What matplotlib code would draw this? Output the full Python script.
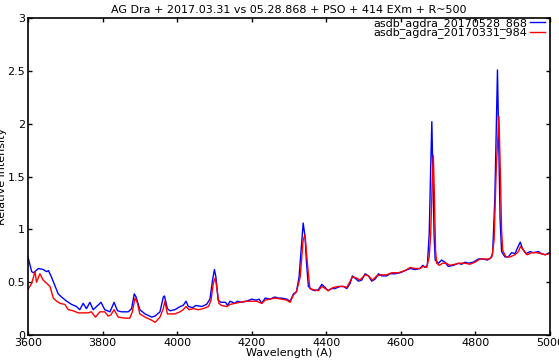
import matplotlib
matplotlib.use('Agg')
import matplotlib.pyplot as plt

# spectrum 2017.05.28 (blue)
wl_0528 = [3600,3610,3615,3628,3641,3650,3655,3663,3672,3681,3690,3704,3717,3730,3739,3748,3757,3766,3775,3784,
           3796,3806,3820,3831,3840,3851,3869,3878,3885,3890,3900,3914,3932,3941,3954,3963,3966,3974,3981,3994,
           4008,4016,4024,4030,4042,4050,4066,4079,4088,4095,4100,4104,4110,4117,4130,4135,4142,4155,4161,4173,
           4186,4200,4213,4220,4227,4236,4249,4262,4271,4280,4294,4303,4312,4320,4327,4334,4338,4343,4347,4352,
           4361,4370,4379,4388,4397,4405,4414,4423,4437,4446,4455,4464,4470,4477,4486,4495,4504,4513,4522,4531,
           4540,4549,4562,4571,4584,4598,4611,4625,4638,4651,4659,4665,4671,4676,4680,4683,4686,4689,4692,4701,
           4709,4718,4727,4741,4754,4763,4772,4781,4794,4808,4821,4832,4841,4846,4852,4856,4859,4862,4866,4870,
           4879,4888,4897,4906,4912,4920,4926,4936,4946,4955,4969,4977,4987,4998]
int_0528 = [0.74,0.60,0.59,0.63,0.62,0.60,0.61,0.55,0.47,0.39,0.36,0.32,0.29,0.27,0.24,0.30,0.25,0.31,0.24,0.27,
            0.31,0.24,0.22,0.31,0.23,0.22,0.22,0.25,0.39,0.36,0.24,0.20,0.17,0.18,0.22,0.36,0.37,0.25,0.23,0.24,
            0.27,0.28,0.32,0.27,0.26,0.28,0.27,0.29,0.34,0.52,0.62,0.55,0.33,0.31,0.31,0.28,0.32,0.30,0.32,0.31,
            0.32,0.34,0.33,0.34,0.30,0.35,0.34,0.36,0.35,0.35,0.34,0.32,0.39,0.41,0.55,0.87,1.06,0.93,0.68,0.46,
            0.43,0.42,0.43,0.48,0.45,0.42,0.44,0.44,0.46,0.46,0.44,0.49,0.56,0.54,0.51,0.52,0.58,0.56,0.51,0.53,
            0.58,0.56,0.56,0.58,0.58,0.59,0.61,0.63,0.62,0.63,0.66,0.64,0.66,0.96,1.60,2.02,1.50,0.95,0.71,0.68,
            0.71,0.69,0.65,0.66,0.68,0.67,0.69,0.68,0.69,0.72,0.72,0.71,0.73,0.77,1.30,2.00,2.51,1.90,1.10,0.79,
            0.74,0.74,0.78,0.77,0.82,0.88,0.82,0.77,0.79,0.78,0.79,0.77,0.76,0.78]

# spectrum 2017.03.31 (red)
wl_0331 = [3600,3610,3619,3623,3632,3641,3650,3659,3668,3677,3686,3699,3708,3721,3735,3748,3761,3770,3781,3793,
           3806,3815,3822,3831,3842,3860,3873,3880,3887,3893,3900,3914,3932,3941,3954,3963,3967,3974,3981,3994,
           4008,4016,4024,4032,4044,4057,4070,4084,4091,4097,4102,4106,4112,4119,4133,4142,4155,4168,4182,4195,
           4213,4227,4236,4249,4262,4280,4294,4303,4312,4320,4330,4338,4343,4347,4352,4356,4365,4379,4388,4397,
           4405,4418,4432,4446,4455,4464,4470,4481,4490,4504,4513,4524,4535,4547,4562,4575,4593,4611,4625,4638,
           4651,4660,4669,4676,4680,4684,4687,4690,4693,4696,4703,4712,4722,4731,4745,4758,4772,4785,4799,4812,
           4826,4837,4844,4850,4856,4863,4867,4870,4873,4882,4893,4906,4915,4921,4929,4938,4951,4964,4977,4987,4998]
int_0331 = [0.43,0.49,0.60,0.50,0.58,0.52,0.49,0.46,0.35,0.32,0.30,0.29,0.24,0.23,0.21,0.21,0.21,0.22,0.17,0.22,
            0.22,0.18,0.19,0.24,0.17,0.16,0.16,0.22,0.35,0.31,0.20,0.17,0.14,0.12,0.17,0.25,0.32,0.20,0.20,0.20,
            0.22,0.24,0.27,0.24,0.25,0.24,0.25,0.27,0.33,0.49,0.54,0.46,0.30,0.28,0.27,0.29,0.30,0.31,0.32,0.32,
            0.32,0.30,0.33,0.34,0.35,0.34,0.33,0.31,0.38,0.41,0.55,0.90,0.95,0.77,0.58,0.44,0.43,0.42,0.46,0.44,
            0.42,0.45,0.46,0.46,0.45,0.51,0.55,0.54,0.52,0.57,0.56,0.52,0.56,0.57,0.57,0.59,0.59,0.61,0.64,0.63,
            0.63,0.65,0.64,0.74,0.96,1.45,1.70,1.30,0.80,0.68,0.66,0.68,0.68,0.66,0.67,0.68,0.68,0.67,0.69,0.72,
            0.72,0.72,0.74,0.90,1.60,2.07,1.50,1.00,0.80,0.74,0.74,0.76,0.79,0.84,0.80,0.76,0.78,0.78,0.77,0.76,0.77]

fig = plt.figure(figsize=(5.59, 3.63), dpi=100)
ax = fig.add_axes([0.050, 0.077, 0.934, 0.873])

ax.plot(wl_0528, int_0528, color='blue', lw=1.0, label='asdb_agdra_20170528_868')
ax.plot(wl_0331, int_0331, color='red', lw=1.0, label='asdb_agdra_20170331_984')

ax.set_xlim(3600, 5000)
ax.set_ylim(0, 3)
ax.set_xticks([3600, 3800, 4000, 4200, 4400, 4600, 4800, 5000])
ax.set_yticks([0, 0.5, 1, 1.5, 2, 2.5, 3])
ax.set_yticklabels(['0', '0.5', '1', '1.5', '2', '2.5', '3'])
ax.tick_params(direction='in', length=3, width=1, top=True, right=True, labelsize=8, pad=2)
for s in ax.spines.values():
    s.set_linewidth(1.2)

ax.set_title('AG Dra + 2017.03.31 vs 05.28.868 + PSO + 414 EXm + R~500', fontsize=8, pad=4)
ax.set_xlabel('Wavelength (A)', fontsize=8, labelpad=0)
ax.set_ylabel('Relative intensity', fontsize=8, labelpad=0)

ax.legend(loc='upper right', bbox_to_anchor=(0.99, 1.0), frameon=False, fontsize=8,
          markerfirst=False, handlelength=1.3, handletextpad=0.3, labelspacing=-0.15,
          borderpad=0, borderaxespad=0)

fig.savefig('out.png', dpi=100)
